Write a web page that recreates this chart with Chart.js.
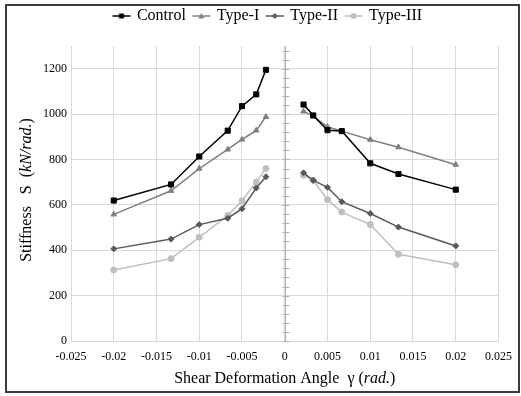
<!DOCTYPE html>
<html>
<head>
<meta charset="utf-8">
<script src="https://cdn.jsdelivr.net/npm/chart.js@4/dist/chart.umd.min.js"></script>
<style>
  body { margin: 0; background: #fff; }
  #wrap { position: absolute; left: 0; top: 0; width: 521px; height: 396px; }
</style>
</head>
<body>
<div id="wrap"><canvas id="stiffnessChart"></canvas></div>
<script>
// shear deformation angle (rad.), negative and positive side
const gammaNeg = [-0.02, -0.0133, -0.01, -0.00667, -0.005, -0.00333, -0.0022];
const gammaPos = [0.0022, 0.00333, 0.005, 0.00667, 0.01, 0.0133, 0.02];

// stiffness S (kN/rad.)
const controlNeg = [619, 690, 813, 927, 1035, 1087, 1195];
const controlPos = [1042, 994, 929, 925, 783, 736, 667];
const type1Neg = [558, 662, 760, 844, 888, 928, 988];
const type1Pos = [1012, 991, 944, 925, 887, 854, 777];
const type2Neg = [406, 449, 513, 541, 583, 674, 724];
const type2Pos = [741, 708, 677, 614, 562, 502, 419];
const type3Neg = [313, 363, 457, 553, 618, 701, 760];
const type3Pos = [730, 708, 623, 568, 513, 382, 336];

const seriesNames = ['Control', 'Type-I', 'Type-II', 'Type-III'];
const xTicks = { min: -0.025, max: 0.025, step: 0.005 };
const yTicks = { min: 0, max: 1300, step: 200, minor: 40 };

const FONT = '"Liberation Serif", "Times New Roman", serif';

function joinSides(neg, pos) {
    const pts = gammaNeg.map((g, i) => ({ x: g, y: neg[i] }));
    pts.push({ x: 0, y: null }); // break the line at the axis
    gammaPos.forEach((g, i) => pts.push({ x: g, y: pos[i] }));
    return pts;
}

const styles = [
    { color: '#000000', shape: 'rect', r: 3.6 },
    { color: '#808080', shape: 'triangle', r: 3.2 },
    { color: '#595959', shape: 'rectRot', r: 3 },
    { color: '#bfbfbf', shape: 'circle', r: 3 }
];
const values = [
    [controlNeg, controlPos],
    [type1Neg, type1Pos],
    [type2Neg, type2Pos],
    [type3Neg, type3Pos]
];

// small line+marker icons for the legend
function legendIcon(st) {
    const c = document.createElement('canvas');
    c.width = 20; c.height = 10;
    const g = c.getContext('2d');
    g.strokeStyle = st.color; g.fillStyle = st.color; g.lineWidth = 1.5;
    g.beginPath(); g.moveTo(1, 5); g.lineTo(19, 5); g.stroke();
    g.beginPath();
    if (st.shape === 'rect') g.rect(7.5, 2.5, 5, 5);
    else if (st.shape === 'triangle') { g.moveTo(10, 2); g.lineTo(13, 7.5); g.lineTo(7, 7.5); g.closePath(); }
    else if (st.shape === 'rectRot') { g.moveTo(10, 2); g.lineTo(13, 5); g.lineTo(10, 8); g.lineTo(7, 5); g.closePath(); }
    else g.arc(10, 5, 3, 0, Math.PI * 2);
    g.fill();
    return c;
}
const icons = styles.map(legendIcon);

const datasets = seriesNames.map((name, i) => ({
    label: name,
    data: joinSides(values[i][0], values[i][1]),
    showLine: true,
    spanGaps: false,
    borderColor: styles[i].color,
    backgroundColor: styles[i].color,
    borderWidth: 1.5,
    pointStyle: styles[i].shape,
    pointRadius: styles[i].r,
    pointHoverRadius: styles[i].r,
    pointBorderWidth: 1
}));

const centerAxis = {
    id: 'centerAxis',
    afterLayout(chart) {
        // nudge the legend to the right, like the original
        chart.legend.left += 12;
        chart.legend.right += 12;
    },
    beforeDatasetsDraw(chart) {
        const { ctx, chartArea, scales } = chart;
        const x0 = Math.round(scales.x.getPixelForValue(0)) + 0.5;
        ctx.save();
        ctx.strokeStyle = '#b0b0b0';
        ctx.lineWidth = 1;
        ctx.beginPath();
        ctx.moveTo(x0, chartArea.top);
        ctx.lineTo(x0, chartArea.bottom);
        for (let v = yTicks.min; v <= yTicks.max; v += yTicks.minor) {
            const y = Math.round(scales.y.getPixelForValue(v)) + 0.5;
            ctx.moveTo(x0 - 3, y);
            ctx.lineTo(x0 + 4, y);
        }
        ctx.stroke();
        ctx.restore();
    }
};

function drawMixed(ctx, parts, cx, cy) {
    let total = 0;
    parts.forEach(p => { ctx.font = p.font; total += ctx.measureText(p.text).width; });
    let x = cx - total / 2;
    parts.forEach(p => {
        ctx.font = p.font;
        ctx.fillText(p.text, x, cy);
        x += ctx.measureText(p.text).width;
    });
}

const titlesAndFrame = {
    id: 'titlesAndFrame',
    afterDraw(chart) {
        const { ctx, chartArea } = chart;
        const normal = '16px ' + FONT;
        const italic = 'italic 16px ' + FONT;
        ctx.save();
        ctx.fillStyle = '#000';
        ctx.textAlign = 'left';
        ctx.textBaseline = 'middle';
        drawMixed(ctx, [
            { text: 'Shear Deformation Angle  \u03B3 (', font: normal },
            { text: 'rad.', font: italic },
            { text: ')', font: normal }
        ], (chartArea.left + chartArea.right) / 2, 379);
        ctx.translate(27, 190);
        ctx.rotate(-Math.PI / 2);
        drawMixed(ctx, [
            { text: 'Stiffness   S  (', font: normal },
            { text: 'kN/rad.', font: italic },
            { text: ')', font: normal }
        ], 0, 0);
        ctx.restore();

        ctx.save();
        ctx.strokeStyle = '#3a3a3a';
        ctx.lineWidth = 2;
        ctx.strokeRect(6, 5, 513, 387);
        ctx.restore();
    }
};

const ctx = document.getElementById('stiffnessChart').getContext('2d');
const stiffnessChart = new Chart(ctx, {
    type: 'scatter',
    data: { datasets: datasets },
    plugins: [centerAxis, titlesAndFrame],
    options: {
        responsive: true,
        maintainAspectRatio: false,
        animation: false,
        layout: { padding: { top: 0, left: 6, right: 15, bottom: 0 } },
        plugins: {
            tooltip: { enabled: false },
            title: {
                display: true,
                text: '',
                font: { size: 10, lineHeight: 1 },
                padding: { top: 0, bottom: 2 }
            },
            legend: {
                position: 'top',
                weight: 3000,
                labels: {
                    usePointStyle: true,
                    pointStyleWidth: 15,
                    padding: 8,
                    color: '#000',
                    font: { family: FONT, size: 16 },
                    generateLabels(chart) {
                        const items = Chart.defaults.plugins.legend.labels.generateLabels(chart);
                        items.forEach((it, i) => { it.pointStyle = icons[i]; });
                        return items;
                    }
                }
            }
        },
        scales: {
            x: {
                type: 'linear',
                min: xTicks.min,
                max: xTicks.max,
                afterFit(scale) { scale.height = 55; },
                border: { display: false },
                grid: { color: '#d9d9d9', drawTicks: false },
                ticks: {
                    stepSize: xTicks.step,
                    padding: 9,
                    color: '#000',
                    font: { family: FONT, size: 12 },
                    callback: v => String(parseFloat(v.toFixed(3)))
                }
            },
            y: {
                min: yTicks.min,
                max: yTicks.max,
                afterFit(scale) { scale.width = 65; },
                afterBuildTicks(scale) {
                    scale.ticks = scale.ticks.filter(t => t.value % yTicks.step === 0);
                },
                border: { display: false },
                grid: { color: '#d9d9d9', drawTicks: false },
                ticks: {
                    stepSize: yTicks.step,
                    padding: 4,
                    color: '#000',
                    font: { family: FONT, size: 12 },
                    callback: v => String(v)
                }
            }
        }
    }
});
</script>
</body>
</html>
